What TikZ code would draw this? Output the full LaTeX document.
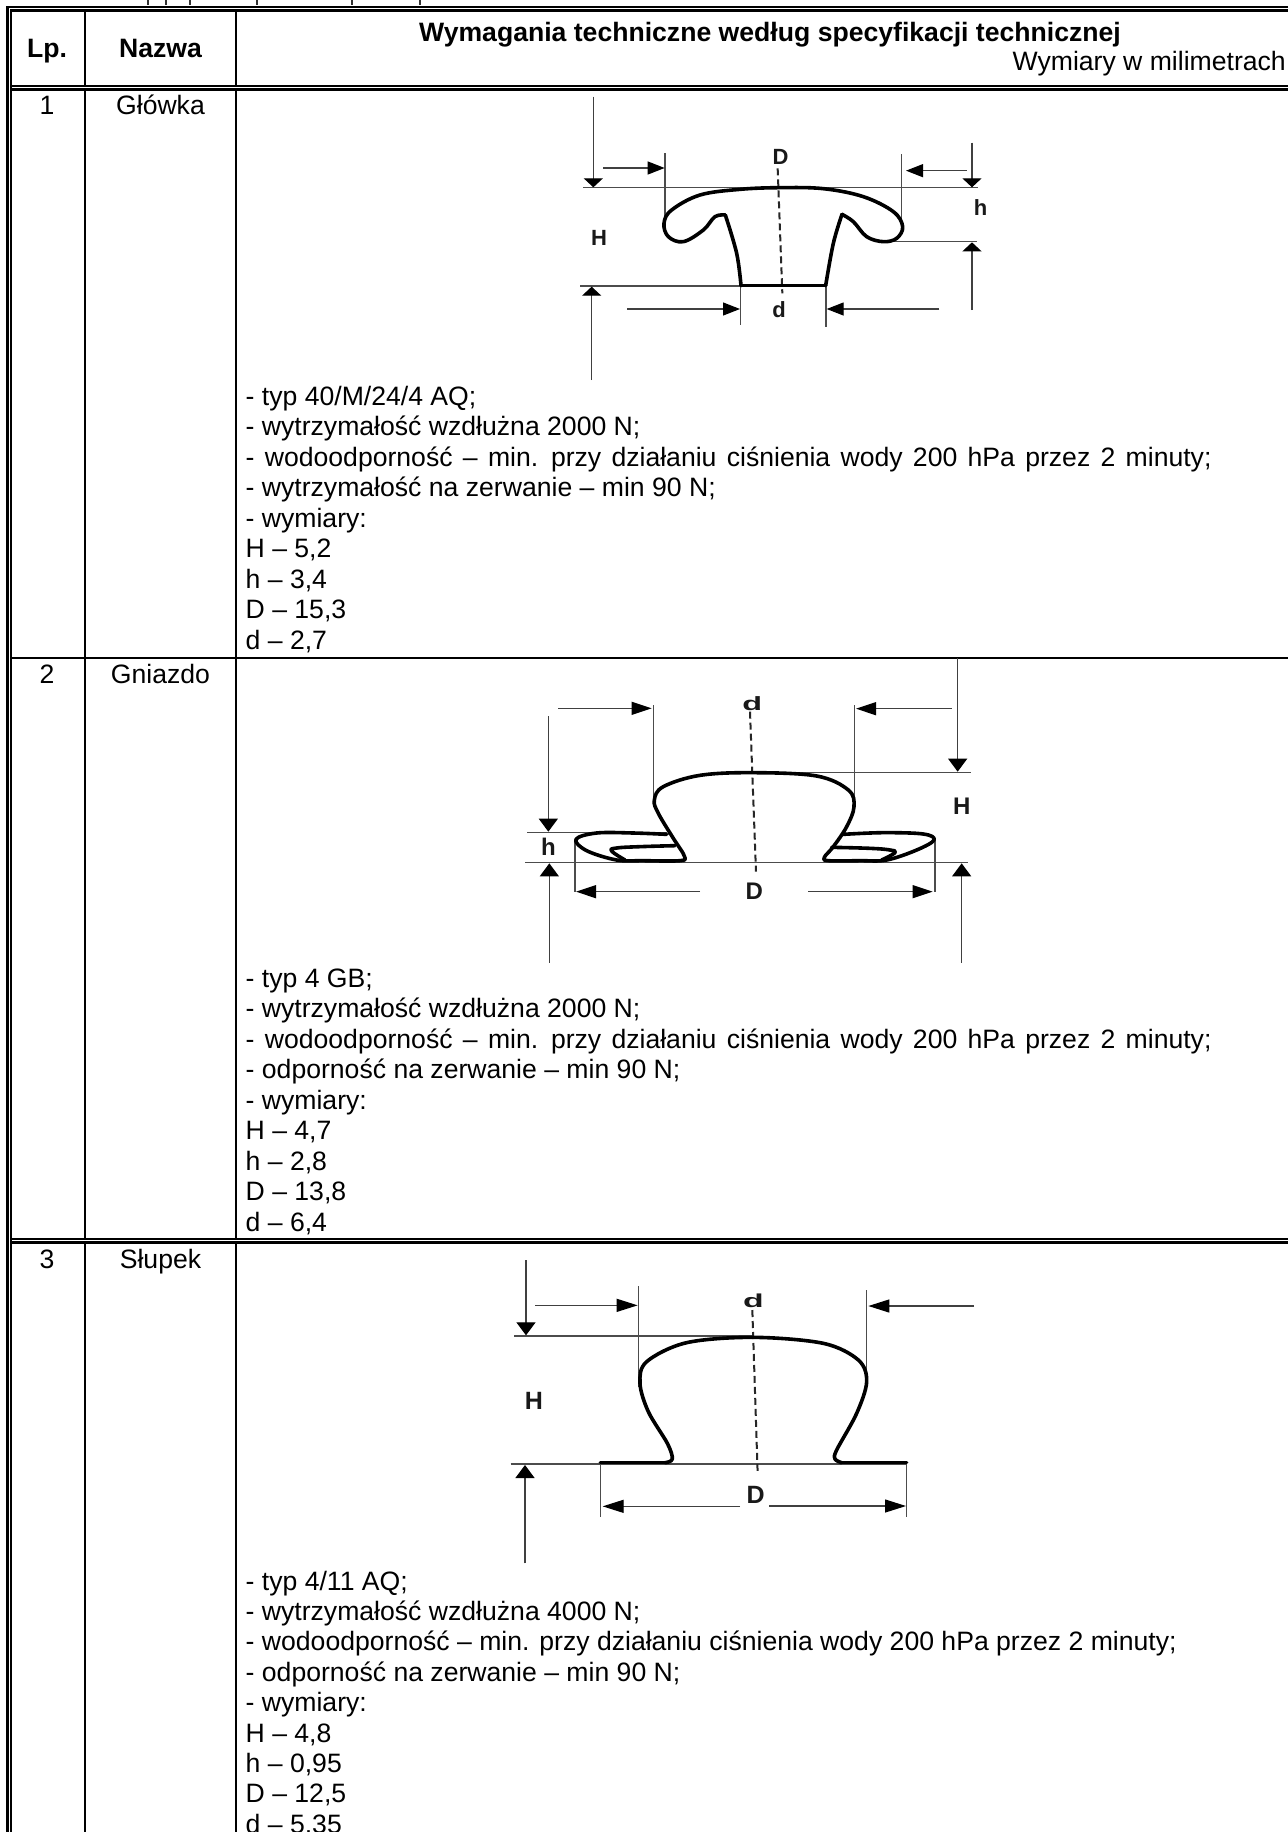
\documentclass[tikz,border=0pt]{standalone}
\usepackage{fontspec}
\setmainfont{Liberation Sans}
\usetikzlibrary{arrows.meta}
\newcommand{\txtsize}{\fontsize{26.6pt}{30pt}\selectfont}
\newcommand{\lblsize}{\fontsize{24pt}{26pt}\selectfont\bfseries}
\newcommand{\widespaces}{\spaceskip=10.3pt plus 0pt minus 0pt\relax}
\tikzset{
  grid line/.style={line width=2.6pt,black},
  thin rule/.style={line width=1.2pt,black!70},
  cell text/.style={inner sep=0pt,anchor=base west,font=\txtsize},
  cell center/.style={inner sep=0pt,anchor=base,font=\txtsize},
  head center/.style={inner sep=0pt,anchor=base,font=\txtsize\bfseries},
  outline/.style={line width=3.6pt,black,line cap=round,line join=round},
  centerline/.style={line width=2pt,black!85,dash pattern=on 7pt off 4pt},
  dim/.style={line width=1.2pt,black!75},
  dimh/.style={dim,-{Triangle[length=#1,width=13pt,color=black]}},
  dimv/.style={dim,-{Triangle[length=#1,width=19pt,color=black]}},
  fig label/.style={inner sep=0pt,font=\lblsize,text=black!90}
}
\begin{document}
\begin{tikzpicture}[x=1pt,y=-1pt]
\useasboundingbox (0,0) rectangle (1288,1832);
\fill[white] (0,0) rectangle (1288,1832);
\clip (0,0) rectangle (1288,1832);

% fragments of the cut-off line above the table
\foreach \fx in {148,166,190,257,352,420}
  \draw[line width=2pt,black!80] (\fx,0) -- (\fx,5);

% table rules
\draw[grid line] (7.5,7) -- (1288,7);
\draw[grid line] (11,10.5) -- (1288,10.5);
\draw[grid line] (11,86) -- (1288,86);
\draw[grid line] (11,89.5) -- (1288,89.5);
\draw[grid line] (11,658) -- (1288,658);
\draw[grid line] (11,1239) -- (1288,1239);
\draw[grid line] (11,1242.5) -- (1288,1242.5);
\draw[grid line] (7.5,6) -- (7.5,1832);
\draw[grid line] (11,9) -- (11,1832);
\draw[grid line] (85,10) -- (85,86);
\draw[grid line] (85,90) -- (85,1239);
\draw[grid line] (85,1243) -- (85,1832);
\draw[grid line] (236,10) -- (236,86);
\draw[grid line] (236,90) -- (236,1239);
\draw[grid line] (236,1243) -- (236,1832);

% header
\node[head center] (hlp) at (47,57) {Lp.};
\node[head center] (hnaz) at (160.5,57) {Nazwa};
\node[head center] (hwym) at (770,41) {Wymagania techniczne według specyfikacji technicznej};
\node[cell text,anchor=base east] (hdim) at (1286,70) {Wymiary w milimetrach};

% first two columns
\node[cell center] (n1) at (47,114) {1};
\node[cell center] (t1) at (160.5,114) {Główka};
\node[cell center] (n2) at (47,683) {2};
\node[cell center] (t2) at (160.5,683) {Gniazdo};
\node[cell center] (n3) at (47,1268) {3};
\node[cell center] (t3) at (160.5,1268) {Słupek};

% lists
\foreach \t [count=\i] in {{- typ 40/M/24/4 AQ;},{- wytrzymałość wzdłużna 2000 N;},{\widespaces - wodoodporność – min. przy działaniu ciśnienia wody 200 hPa przez 2 minuty;},{- wytrzymałość na zerwanie – min 90 N;},{- wymiary:},{H – 5,2},{h – 3,4},{D – 15,3},{d – 2,7}}
  \node[cell text] (a\i) at (245.5,{405+(\i-1)*30.5}) {\t};
\foreach \t [count=\i] in {{- typ 4 GB;},{- wytrzymałość wzdłużna 2000 N;},{\widespaces - wodoodporność – min. przy działaniu ciśnienia wody 200 hPa przez 2 minuty;},{- odporność na zerwanie – min 90 N;},{- wymiary:},{H – 4,7},{h – 2,8},{D – 13,8},{d – 6,4}}
  \node[cell text] (b\i) at (245.5,{987+(\i-1)*30.5}) {\t};
\foreach \t [count=\i] in {{- typ 4/11 AQ;},{- wytrzymałość wzdłużna 4000 N;},{- wodoodporność – min. przy działaniu ciśnienia wody 200 hPa przez 2 minuty;},{- odporność na zerwanie – min 90 N;},{- wymiary:},{H – 4,8},{h – 0,95},{D – 12,5},{d – 5,35}}
  \node[cell text] (c\i) at (245.5,{1590+(\i-1)*30.4}) {\t};

% figure 1
\begin{scope}[shift={(540,80)},scale=1/3]
  \draw[thin rule] (130,323) -- (1315,323);
  \draw[thin rule] (120,618) -- (605,618);
  \draw[thin rule] (1040,485) -- (1310,485);
  \draw[thin rule] (375,220) -- (375,420);
  \draw[thin rule] (1085,222) -- (1085,430);
  \draw[thin rule] (602,618) -- (602,735);
  \draw[thin rule] (858,618) -- (858,742);
  \draw[dimv=9pt] (160,50) -- (160,322);
  \draw[dimv=9pt] (1296,188) -- (1296,322);
  \draw[dimv=9pt] (1296,690) -- (1296,487);
  \draw[dimv=9pt] (155,900) -- (155,620);
  \draw[dimh=17pt] (190,264) -- (374,264);
  \draw[dimh=17pt] (1280,272) -- (1098,272);
  \draw[dimh=17pt] (262,687) -- (600,687);
  \draw[dimh=17pt] (1198,687) -- (860,687);
  \draw[centerline] (713,265) -- (727,640);
  \draw[outline] plot[smooth,tension=.6] coordinates {(603,617) (590,520) (556,405)};
  \draw[outline] plot[smooth,tension=.6] coordinates {(556,405) (525,410) (490,450) (430,485) (385,470) (372,430) (395,390) (480,345) (600,328) (720,323) (850,326) (970,350) (1060,395) (1088,440) (1070,475) (1030,485) (980,470) (940,425) (906,403)};
  \draw[outline] plot[smooth,tension=.6] coordinates {(906,403) (880,490) (857,617)};
  \draw[outline] (603,617) -- (857,617);
  \node[fig label,font=\fontsize{22pt}{24pt}\selectfont\bfseries] (f1D) at (722,230) {D};
  \node[fig label,font=\fontsize{22pt}{24pt}\selectfont\bfseries] (f1d) at (717,690) {d};
  \node[fig label,font=\fontsize{22pt}{24pt}\selectfont\bfseries] (f1h) at (1322,383) {h};
  \node[fig label,font=\fontsize{22pt}{24pt}\selectfont\bfseries] (f1H) at (177,473) {H};
\end{scope}

% figure 2
\begin{scope}[shift={(500,650)},scale=1/3]
  \draw[thin rule] (760,367) -- (1412,367);
  \draw[thin rule] (82,547) -- (500,547);
  \draw[thin rule] (75,637) -- (1405,637);
  \draw[thin rule] (461,165) -- (461,455);
  \draw[thin rule] (1063,165) -- (1063,440);
  \draw[thin rule] (225,570) -- (225,725);
  \draw[thin rule] (1305,570) -- (1305,725);
  \draw[dimv=13pt] (1373,25) -- (1373,365);
  \draw[dimv=13pt] (145,198) -- (145,545);
  \draw[dimv=13pt] (148,938) -- (148,640);
  \draw[dimv=13pt] (1385,938) -- (1385,640);
  \draw[dimh=20pt] (175,175) -- (455,175);
  \draw[dimh=20pt] (1355,176) -- (1068,176);
  \draw[dimh=20pt] (600,725) -- (228,725);
  \draw[dimh=20pt] (925,725) -- (1298,725);
  \draw[centerline] (750,185) -- (768,665);
  \draw[outline] plot[smooth,tension=.6] coordinates {(500,553) (400,549) (290,549) (228,568) (260,602) (350,630) (430,632) (540,632) (553,618) (520,565) (475,490) (463,450) (490,410) (600,376) (760,368) (950,378) (1045,420) (1062,470) (1040,530) (1000,590) (973,622) (985,632) (1080,632) (1160,630) (1250,600) (1302,570) (1270,552) (1150,548) (1030,553)};
  \draw[outline] plot[smooth,tension=.7] coordinates {(525,587) (420,590) (350,594) (335,603) (375,630)};
  \draw[outline] plot[smooth,tension=.7] coordinates {(995,592) (1110,595) (1170,600) (1185,608) (1145,630)};
  \node[fig label] (f2d) at (757,160) {\scalebox{1.35}[.8]{d}};
  \node[fig label] (f2D) at (763,725) {D};
  \node[fig label] (f2h) at (145,590) {h};
  \node[fig label] (f2H) at (1385,470) {H};
\end{scope}

% figure 3
\begin{scope}[shift={(490,1260)},scale=1/3]
  \draw[thin rule] (72,228) -- (790,228);
  \draw[thin rule] (62,612) -- (1250,612);
  \draw[thin rule] (446,78) -- (446,380);
  \draw[thin rule] (1130,90) -- (1130,370);
  \draw[thin rule] (331,608) -- (331,772);
  \draw[thin rule] (1250,608) -- (1250,770);
  \draw[dimv=13pt] (108,0) -- (108,226);
  \draw[dimv=13pt] (105,910) -- (105,615);
  \draw[dimh=21pt] (135,136) -- (443,136);
  \draw[dimh=21pt] (1452,138) -- (1135,138);
  \draw[dimh=21pt] (750,739) -- (338,739);
  \draw[dimh=21pt] (838,738) -- (1248,738);
  \draw[centerline] (787,150) -- (803,640);
  \draw[outline] (331,608) -- (525,608);
  \draw[outline] plot[smooth,tension=.55] coordinates {(525,608) (547,597) (532,550) (475,455) (450,370) (470,305) (590,248) (790,232) (1000,250) (1105,300) (1130,365) (1100,460) (1040,570) (1035,597) (1055,608)};
  \draw[outline] (1055,608) -- (1250,608);
  \node[fig label,font=\fontsize{25pt}{26pt}\selectfont\bfseries] (f3d) at (790,122) {\scalebox{1.35}[.75]{d}};
  \node[fig label,font=\fontsize{25pt}{26pt}\selectfont\bfseries] (f3D) at (797,705) {D};
  \node[fig label,font=\fontsize{25pt}{26pt}\selectfont\bfseries] (f3H) at (132,423) {H};
\end{scope}
\end{tikzpicture}
\end{document}
